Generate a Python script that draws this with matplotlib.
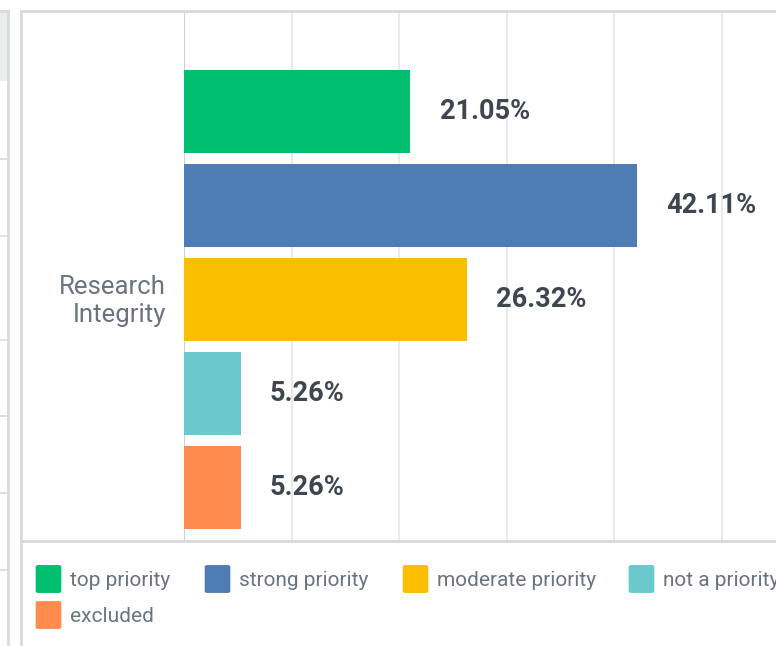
import matplotlib
matplotlib.use('Agg')
import matplotlib.pyplot as plt
from matplotlib.patches import FancyBboxPatch, Rectangle
from matplotlib.lines import Line2D

plt.rcParams['font.family'] = ['Roboto', 'DejaVu Sans']

category = 'Research\nIntegrity'
answers = ['top priority', 'strong priority', 'moderate priority', 'not a priority', 'excluded']
percents = [21.05, 42.11, 26.32, 5.26, 5.26]
colors = ['#00bf6f', '#507cb6', '#f9be00', '#6bc8cd', '#ff8b4f']
xticks = [0, 10, 20, 30, 40, 50, 60]

W, H = 776, 646
fig = plt.figure(figsize=(W / 100, H / 100), dpi=100)
fig.patch.set_facecolor('white')

def fx(x): return x / W
def fy(y): return 1 - y / H

BORDER = '#d8dada'
# neighbouring panel on the far left (cropped)
fig.add_artist(Rectangle((fx(-5), fy(81)), fx(12), fy(11) - fy(81), transform=fig.transFigure,
                         fc='#eceeee', ec='none'))
fig.add_artist(Line2D([fx(7.5), fx(7.5)], [fy(11), 0], transform=fig.transFigure, color=BORDER, lw=2))
fig.add_artist(Line2D([0, fx(7.5)], [fy(11), fy(11)], transform=fig.transFigure, color=BORDER, lw=2))
for yy in [159, 236, 340, 416, 493, 570]:
    fig.add_artist(Line2D([0, fx(7.5)], [fy(yy), fy(yy)], transform=fig.transFigure, color=BORDER, lw=1.2))

# main panel frame
fig.add_artist(Line2D([fx(21), fx(21)], [fy(11), 0], transform=fig.transFigure, color=BORDER, lw=2))
fig.add_artist(Line2D([fx(21), 1], [fy(11), fy(11)], transform=fig.transFigure, color=BORDER, lw=2))
fig.add_artist(Line2D([fx(21), 1], [fy(541), fy(541)], transform=fig.transFigure, color=BORDER, lw=2))

# plot area (extends past the right edge, as in the crop)
x0, x60 = 184, 184 + 6 * 107.6
ax = fig.add_axes([fx(x0), fy(541), fx(x60) - fx(x0), fy(11) - fy(541)])
ypos = list(range(len(percents)))
ax.barh(ypos, percents, height=0.885, color=colors, zorder=3)
ax.set_xlim(0, 60)
ax.set_ylim(4.574, -1.069)
ax.set_xticks(xticks)
ax.xaxis.grid(True, color='#e6e6e6', lw=1.2, zorder=0)
ax.axvline(0, color='#cfcfcf', lw=1.5, zorder=2)
ax.tick_params(length=0, labelbottom=False, labelleft=False)
for s in ax.spines.values():
    s.set_visible(False)
for yv, v in zip(ypos, percents):
    ax.text(v + 2.7, yv, f'{v:.2f}%', va='center', ha='left', fontsize=19.5,
            fontweight='bold', color='#3f4650', zorder=4)

fig.text(fx(166), fy(301), category, ha='right', va='center', fontsize=18.5,
         color='#6b7380', linespacing=1.25)

# legend: (square left, row top, text left)
leg_pos = [(36, 565, 70), (205, 565, 239), (403, 565, 437), (629, 565, 663), (36, 601, 70)]
for (lx, ly, tx), lab, c in zip(leg_pos, answers, colors):
    fig.add_artist(FancyBboxPatch((fx(lx + 2), fy(ly + 26)), fx(21), fy(ly + 2) - fy(ly + 26),
                                  boxstyle='round,pad=0.003', transform=fig.transFigure,
                                  fc=c, ec='none'))
    fig.text(fx(tx), fy(ly + 15), lab, ha='left', va='center', fontsize=15, color='#6b7380')

fig.savefig('out.png', dpi=100)
